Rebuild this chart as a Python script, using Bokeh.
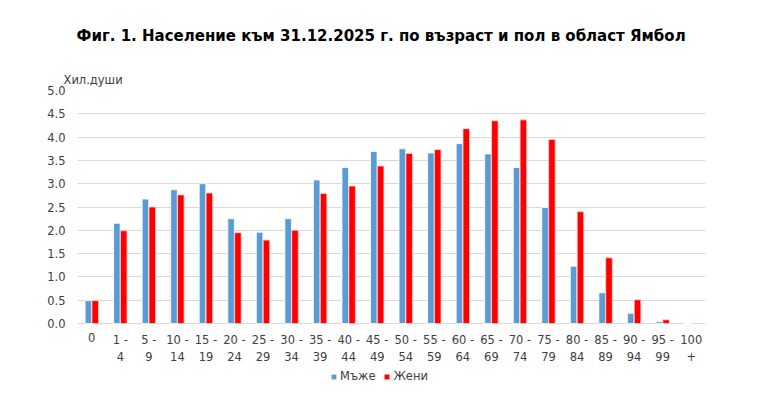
from bokeh.plotting import figure
from bokeh.models import (FactorRange, Legend, LegendItem, Title, FixedTicker,
                          NumeralTickFormatter)
from bokeh.core.properties import value
from bokeh.transform import dodge
from bokeh.embed import file_html
from bokeh.resources import INLINE

age_groups = ["0", "1 -\n4", "5 -\n9", "10 -\n14", "15 -\n19", "20 -\n24", "25 -\n29",
              "30 -\n34", "35 -\n39", "40 -\n44", "45 -\n49", "50 -\n54", "55 -\n59",
              "60 -\n64", "65 -\n69", "70 -\n74", "75 -\n79", "80 -\n84", "85 -\n89",
              "90 -\n94", "95 -\n99", "100\n+"]
men = [0.49, 2.15, 2.67, 2.87, 3.00, 2.25, 1.96, 2.25, 3.08, 3.35, 3.69, 3.75,
       3.66, 3.86, 3.64, 3.35, 2.49, 1.23, 0.66, 0.22, 0.04, 0.0]
women = [0.49, 1.99, 2.50, 2.76, 2.80, 1.95, 1.79, 2.00, 2.79, 2.95, 3.38, 3.65,
         3.73, 4.18, 4.35, 4.37, 3.95, 2.40, 1.41, 0.51, 0.08, 0.0]
y_ticks = [0.0, 0.5, 1.0, 1.5, 2.0, 2.5, 3.0, 3.5, 4.0, 4.5, 5.0]

FONT = "DejaVu Sans"
GREY = "#404040"

# the frame reaches down to the page bottom so the category labels and the legend sit inside it
p = figure(frame_width=628, frame_height=306, x_range=FactorRange(*age_groups),
           y_range=(-1.566, 5.0), x_axis_location=None,
           output_backend="svg", toolbar_location=None)
p.min_border_left = 77
p.min_border_right = 36
p.min_border_top = 90
p.min_border_bottom = 0
p.outline_line_color = None

unit_title = Title(text="Хил.души", align="left", offset=-14, standoff=8,
                   text_font=FONT, text_font_size="11.5px", text_font_style="normal",
                   text_color=GREY)
main_title = Title(text="Фиг. 1. Население към 31.12.2025  г. по възраст и пол в област Ямбол",
                   align="left", offset=-1, standoff=44, text_font=FONT,
                   text_font_size="15px", text_font_style="bold", text_color="black")
p.add_layout(unit_title, "above")
p.add_layout(main_title, "above")

src = dict(cat=age_groups, men=men, women=women)
r_men = p.vbar(x=dodge("cat", -0.12, range=p.x_range), top="men", width=0.23, source=src,
               fill_color="#5B9BD5", line_color="white", line_width=0.8)
r_women = p.vbar(x=dodge("cat", 0.12, range=p.x_range), top="women", width=0.23, source=src,
                 fill_color="#FF0000", line_color="#FFD0D0", line_width=0.8)

# category labels under the zero line
p.text(x="cat", y=0, text="cat", source=src, y_offset=9, text_align="center",
       text_baseline="top", text_font=value(FONT), text_font_size="11.5px",
       text_color=GREY, text_line_height=1.25)

p.yaxis.ticker = FixedTicker(ticks=y_ticks)
p.yaxis.formatter = NumeralTickFormatter(format="0.0")
p.yaxis.axis_line_color = None
p.yaxis.major_tick_line_color = None
p.yaxis.minor_tick_line_color = None
p.yaxis.major_label_text_font = FONT
p.yaxis.major_label_text_font_size = "11.5px"
p.yaxis.major_label_text_color = GREY
p.yaxis.major_label_standoff = 6
p.ygrid.grid_line_color = "#d9d9d9"
p.xgrid.grid_line_color = None

legend = Legend(items=[LegendItem(label="Мъже", renderers=[r_men]),
                       LegendItem(label="Жени", renderers=[r_women])],
                orientation="horizontal", location=(253, 13),
                label_text_font=FONT, label_text_font_size="11.5px", label_text_color=GREY,
                glyph_width=7, glyph_height=7, spacing=8, label_standoff=3,
                border_line_color=None, background_fill_alpha=0, padding=2, margin=0)
p.add_layout(legend, "center")

open("out.html", "w").write(file_html(p, INLINE))
